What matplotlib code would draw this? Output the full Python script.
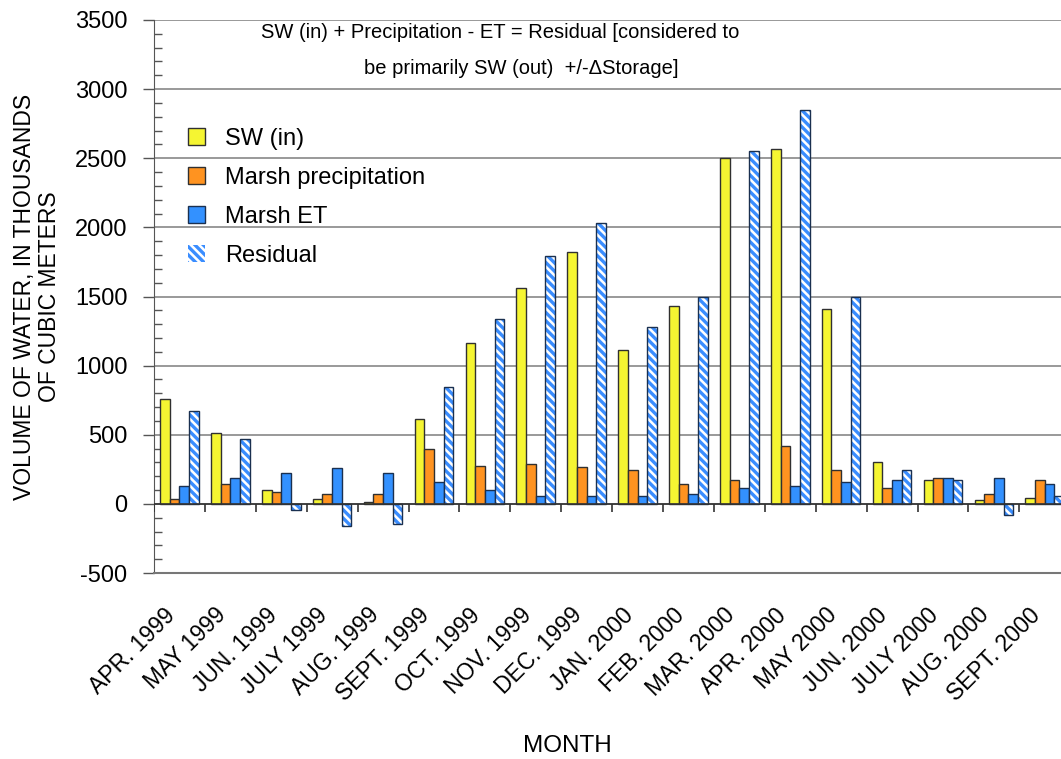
import numpy as np
import matplotlib
matplotlib.use('Agg')
from matplotlib import pyplot as plt
from matplotlib import transforms

months = ['APR. 1999', 'MAY 1999', 'JUN. 1999', 'JULY 1999', 'AUG. 1999', 'SEPT. 1999',
          'OCT. 1999', 'NOV. 1999', 'DEC. 1999', 'JAN. 2000', 'FEB. 2000', 'MAR. 2000',
          'APR. 2000', 'MAY 2000', 'JUN. 2000', 'JULY 2000', 'AUG. 2000', 'SEPT. 2000']
sw_in = [755, 515, 99, 33, 12, 615, 1165, 1560, 1820, 1113, 1428, 2500,
         2568, 1412, 304, 173, 29, 46]
marsh_precip = [33, 146, 85, 71, 71, 399, 277, 290, 265, 243, 147, 174,
                420, 243, 113, 188, 72, 173]
marsh_et = [127, 186, 226, 259, 226, 158, 99, 58, 58, 58, 73, 114,
            128, 160, 173, 188, 188, 147]
residual = [670, 468, -42, -158, -143, 845, 1340, 1790, 2030, 1283, 1500, 2555,
            2850, 1500, 243, 173, -84, 60]

plt.rcParams['font.family'] = ['Liberation Sans', 'DejaVu Sans']
plt.rcParams['axes.unicode_minus'] = False
plt.rcParams['hatch.linewidth'] = 2.4
plt.rcParams['hatch.color'] = '#3a8dff'

W, H = 1061, 759
fig = plt.figure(figsize=(W/100, H/100), dpi=100)
ax = fig.add_axes([154/W, 1-573/H, 1-154/W, 553/H])

x = np.arange(len(months))
w = 0.19
edge = '#303030'
ax.bar(x - 1.5*w, sw_in, w, color='#f5f532', edgecolor=edge, linewidth=1, label='SW (in)', zorder=3)
ax.bar(x - 0.5*w, marsh_precip, w, color='#ff9320', edgecolor=edge, linewidth=1, label='Marsh precipitation', zorder=3)
ax.bar(x + 0.5*w, marsh_et, w, color='#3391ff', edgecolor='#1a3050', linewidth=1, label='Marsh ET', zorder=3)
ax.bar(x + 1.5*w, residual, w, color='white', edgecolor='#3a8dff', hatch='\\\\\\\\', linewidth=0, zorder=3)
ax.bar(x + 1.5*w, residual, w, color='none', edgecolor='#1a3050', linewidth=1, zorder=4)
res_handle = plt.Rectangle((0, 0), 1, 1, facecolor='white', edgecolor='#3a8dff', hatch='\\\\\\\\', linewidth=0)

ax.set_ylim(-500, 3500)
ax.set_xlim(-0.5, -0.5 + 907/50.9)
ax.set_yticks(np.arange(-500, 3501, 500))
ax.set_yticks(np.arange(-500, 3501, 100), minor=True)
ax.yaxis.grid(True, which='major', color='#888888', linewidth=1.2, zorder=0)
ax.set_axisbelow(True)
ax.tick_params(axis='y', which='major', direction='out', length=8, width=1, color='#555555',
               labelsize=17, pad=11)
ax.tick_params(axis='y', which='minor', direction='in', length=6, width=1, color='#555555')

ax.set_xticks(x)
ax.set_xticklabels(months, rotation=45, ha='right', rotation_mode='anchor', fontsize=16.5)
ax.tick_params(axis='x', which='major', length=0, pad=22)
shift = transforms.ScaledTranslation(-16/100, 0, fig.dpi_scale_trans)
for lab in ax.get_xticklabels():
    lab.set_transform(lab.get_transform() + shift)

# zero line with boundary ticks
ax.axhline(0, color='#333333', linewidth=1.2, zorder=5)
bounds = np.arange(len(months) + 1) - 0.5
ax.vlines(bounds, -60, 0, color='#333333', linewidth=1.2, zorder=5)

for s in ['top', 'right']:
    ax.spines[s].set_visible(False)
ax.spines['left'].set_color('#555555')
ax.spines['bottom'].set_color('#777777')
ax.spines['bottom'].set_linewidth(1.5)

ax.set_ylabel('VOLUME OF WATER, IN THOUSANDS\nOF CUBIC METERS', fontsize=16.5, linespacing=1.1)
ax.yaxis.set_label_coords(-0.103, 0.5)
fig.text(567/W, 1-746/H, 'MONTH', ha='center', va='center', fontsize=17.5)

fig.text(500/W, 1-33/H, 'SW (in) + Precipitation - ET = Residual [considered to',
         ha='center', va='center', fontsize=14.5)
fig.text(521/W, 1-68/H, 'be primarily SW (out)  +/-\u0394Storage]',
         ha='center', va='center', fontsize=14.5)

handles, labels = ax.get_legend_handles_labels()
handles.append(res_handle)
labels.append('Residual')
ax.legend(handles, labels, loc='upper left', bbox_to_anchor=(188/W, 1-128/H),
          bbox_transform=fig.transFigure, frameon=False, fontsize=17,
          handlelength=0.72, handleheight=0.72, handletextpad=0.85, labelspacing=0.72,
          borderpad=0, borderaxespad=0)

fig.savefig('out.png', dpi=100)
